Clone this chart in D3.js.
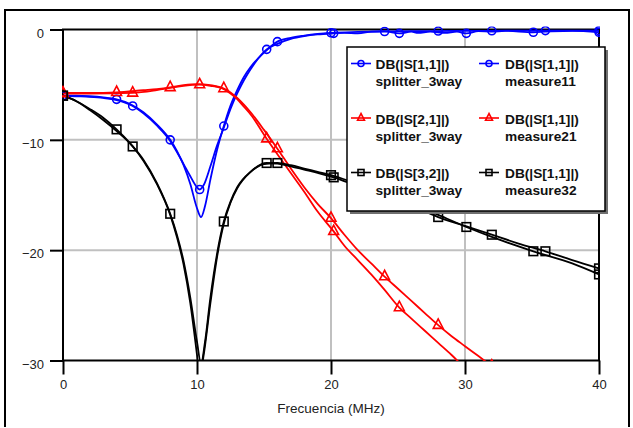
<!DOCTYPE html>
<html>
<head>
<meta charset="utf-8">
<script src="https://cdn.jsdelivr.net/npm/d3@7"></script>
<style>
  body { margin: 0; background: #fff; overflow: hidden; }
  svg { display: block; }
</style>
</head>
<body>
<svg id="drawing_region"></svg>
<script>
// frequency (MHz), dB
var s11Splitter = [[0,-6.0],[1,-6.0],[2,-6.05],[3,-6.15],[4,-6.33],[5,-6.75],[6,-7.5],[7,-8.6],[8,-10.0],[8.5,-11.0],[9,-12.3],[9.5,-14.0],[10,-16.2],[10.3,-17.0],[10.6,-16.0],[11,-13.6],[11.5,-10.9],[12,-8.75],[12.5,-6.9],[13,-5.5],[13.5,-4.3],[14,-3.4],[15,-2.1],[16,-1.1],[17,-0.75],[18,-0.55],[19,-0.4],[20,-0.3],[22,-0.22],[24,-0.18],[26,-0.15],[28,-0.14],[30,-0.12],[32,-0.12],[34,-0.1],[36,-0.1],[38,-0.1],[40,-0.1]];
var s11Measure = [[0,-6.0],[1,-6.05],[2,-6.1],[3,-6.2],[4,-6.4],[5.2,-6.93],[6,-7.6],[7,-8.7],[8,-10.1],[8.5,-11.1],[9,-12.2],[9.5,-13.3],[10,-14.3],[10.2,-14.5],[10.5,-14.1],[11,-12.4],[11.5,-10.5],[12,-8.9],[12.5,-7.2],[13,-5.8],[13.5,-4.6],[14,-3.6],[15.2,-1.8],[16,-1.3],[17,-0.85],[18,-0.6],[19,-0.45],[20.2,-0.35],[21,-0.3],[22,-0.35],[23,-0.2],[24,-0.15],[25.1,-0.35],[26,-0.2],[26.5,-0.3],[27.4,-0.2],[28.5,-0.3],[29.4,-0.2],[30.1,-0.35],[31,-0.15],[32,-0.2],[33,-0.12],[35.1,-0.25],[36,-0.2],[38,-0.12],[40,-0.25]];
var s21Splitter = [[0,-5.75],[2,-5.75],[4,-5.7],[6,-5.5],[7,-5.4],[8,-5.25],[9,-5.05],[10,-4.95],[11,-5.05],[12,-5.35],[12.5,-5.7],[13,-6.2],[13.5,-6.8],[14,-7.5],[15,-9.1],[16,-10.8],[17,-12.6],[18,-14.3],[19,-15.8],[20,-17.1],[21,-18.6],[22,-20.0],[23,-21.2],[24,-22.4],[25,-23.5],[26,-24.6],[27,-25.7],[28,-26.8],[29,-27.8],[30,-28.7],[31,-29.6],[32,-30.5],[33,-31.4]];
var s21Measure = [[0,-5.8],[2,-5.8],[5.2,-5.75],[7,-5.5],[8,-5.3],[9,-5.1],[10.2,-5.0],[11,-5.1],[12,-5.4],[12.5,-5.8],[13,-6.3],[13.5,-7.0],[14,-7.7],[15.2,-9.9],[16,-11.3],[17,-13.0],[18,-14.7],[19,-16.5],[20.2,-18.3],[21,-19.6],[22,-20.9],[23,-22.2],[24,-23.6],[25.1,-25.2],[26,-26.2],[27,-27.3],[28,-28.4],[29,-29.5],[30,-30.7],[31,-31.8]];
var s32Splitter = [[0,-6.0],[1,-6.5],[2,-7.2],[3,-8.0],[4,-9.05],[5,-10.3],[6,-11.8],[7,-13.9],[8,-16.7],[8.5,-18.6],[9,-21.0],[9.5,-24.3],[10,-28.3],[10.3,-30.3],[10.6,-28.3],[11,-24.3],[11.5,-20.3],[12,-17.4],[12.5,-15.6],[13,-14.3],[14,-12.9],[15,-12.2],[16,-12.1],[17,-12.3],[18,-12.6],[19,-12.9],[20,-13.2],[22,-14.0],[24,-14.8],[26,-15.9],[28,-17.0],[30,-17.8],[32,-18.6],[34,-19.4],[36,-20.1],[38,-20.9],[40,-21.65]];
var s32Measure = [[0,-6.0],[1,-6.5],[2,-7.3],[3,-8.2],[4,-9.2],[5.2,-10.6],[6,-11.9],[7,-14.0],[8,-16.8],[8.5,-18.8],[9,-21.3],[9.5,-24.8],[10,-29.5],[10.2,-31.5],[10.5,-29.5],[11,-24.8],[11.5,-20.6],[12,-17.6],[12.5,-15.7],[13,-14.4],[14,-12.9],[15.2,-12.1],[16,-12.15],[17,-12.4],[18,-12.7],[19,-13.0],[20.2,-13.4],[22,-14.2],[25.1,-15.4],[28,-16.8],[30.1,-17.9],[32,-18.8],[35.1,-20.1],[38,-21.2],[40,-22.2]];

// marker frequencies along the traces
var markersSplitter = [0, 4, 8, 12, 16, 20, 24, 28, 32, 36, 40];
var markersMeasure = [0, 5.2, 10.2, 15.2, 20.2, 25.1, 30.1, 35.1, 40];

var xTicks = [0, 10, 20, 30, 40];
var yTicks = [0, -10, -20, -30];

var legendLeft = ['DB(|S[1,1]|)', 'DB(|S[2,1]|)', 'DB(|S[3,2]|)'];
var legendRight = ['DB(|S[1,1]|)', 'DB(|S[1,1]|)', 'DB(|S[1,1]|)'];
var legendLeftSub = ['splitter_3way', 'splitter_3way', 'splitter_3way'];
var legendRightSub = ['measure11', 'measure21', 'measure32'];

var font = '"Liberation Sans", Arial, sans-serif';

var width = 633;
var height = 428;
var margin = {top: 29.5, right: 34, bottom: 67.5, left: 63};

var svg = d3.select('#drawing_region')
      .attr('width', width)
      .attr('height', height)
      .attr('font-family', font);

const innerWidth = width - margin.left - margin.right;
const innerHeight = height - margin.top - margin.bottom;

// outer frame: left, top, right sides (bottom is off the page)
[[5, 10, 5, height - 1], [4, 10, 630, 10], [629, 10, 629, height - 1]].forEach(l => {
      svg.append('line')
            .attr('x1', l[0]).attr('y1', l[1]).attr('x2', l[2]).attr('y2', l[3])
            .attr('stroke', 'black')
            .attr('stroke-width', 2);
});

var chart = svg.append('g')
      .attr('transform', `translate(${margin.left}, ${margin.top})`);

const xscale = d3.scaleLinear().domain([0, 40]).range([0, innerWidth]);
const yscale = d3.scaleLinear().domain([0, -30]).range([0, innerHeight]);

chart.append('defs').append('clipPath').attr('id', 'plotclip')
      .append('rect')
      .attr('x', -1).attr('y', -3)
      .attr('width', innerWidth + 2).attr('height', innerHeight + 3.5);

// grid
chart.selectAll('.vgrid').data(xTicks.slice(1, -1)).enter().append('line')
      .attr('x1', d => xscale(d)).attr('x2', d => xscale(d))
      .attr('y1', 0).attr('y2', innerHeight)
      .attr('stroke', '#c0c0c0').attr('stroke-width', 2);
chart.selectAll('.hgrid').data(yTicks.slice(1, -1)).enter().append('line')
      .attr('y1', d => yscale(d)).attr('y2', d => yscale(d))
      .attr('x1', 0).attr('x2', innerWidth)
      .attr('stroke', '#c0c0c0').attr('stroke-width', 2);

// axes
const xAxis = d3.axisBottom(xscale).tickValues(xTicks).tickSize(14).tickPadding(5);
const yAxis = d3.axisLeft(yscale).tickValues(yTicks).tickSize(13).tickPadding(6);

var gx = chart.append('g')
      .attr('transform', `translate(0, ${innerHeight})`)
      .call(xAxis);
var gy = chart.append('g').call(yAxis);
[gx, gy].forEach(g => {
      g.attr('font-family', font).attr('font-size', 13);
      g.select('.domain').remove();
      g.selectAll('line').attr('stroke', 'black').attr('stroke-width', 2);
      g.selectAll('text').attr('fill', '#222');
});
gy.selectAll('text').attr('dy', '0.58em');

// plot frame
chart.append('rect')
      .attr('width', innerWidth).attr('height', innerHeight)
      .attr('fill', 'none')
      .attr('stroke', 'black')
      .attr('stroke-width', 2);

chart.append('text')
      .attr('x', 331 - margin.left)
      .attr('y', 413 - margin.top)
      .attr('text-anchor', 'middle')
      .attr('fill', '#222')
      .attr('font-size', 13.5)
      .text('Frecuencia (MHz)');

const line = d3.line()
      .x(d => xscale(d[0]))
      .y(d => yscale(d[1]))
      .curve(d3.curveMonotoneX);

function valueAt(data, f) {
      for (var i = 1; i < data.length; i++) {
            if (f <= data[i][0]) {
                  var a = data[i - 1], b = data[i];
                  var t = (f - a[0]) / (b[0] - a[0]);
                  return a[1] + t * (b[1] - a[1]);
            }
      }
      return data[data.length - 1][1];
}

function drawMarker(g, shape, cx, cy, s, color) {
      if (shape === 'circle') {
            g.append('circle').attr('cx', cx).attr('cy', cy).attr('r', s)
                  .attr('fill', 'none').attr('stroke', color).attr('stroke-width', 1.6);
      } else if (shape === 'triangle') {
            var h = s * 2.2;
            var pts = [[cx, cy - h * 2 / 3], [cx - s * 1.15, cy + h / 3], [cx + s * 1.15, cy + h / 3]];
            g.append('polygon').attr('points', pts.map(p => p.join(',')).join(' '))
                  .attr('fill', 'none').attr('stroke', color).attr('stroke-width', 1.6);
      } else {
            g.append('rect').attr('x', cx - s).attr('y', cy - s)
                  .attr('width', s * 2).attr('height', s * 2)
                  .attr('fill', 'none').attr('stroke', color).attr('stroke-width', 1.6);
      }
}

var series = [
      {data: s11Splitter, marks: markersSplitter, color: '#0000ff', shape: 'circle'},
      {data: s11Measure, marks: markersMeasure, color: '#0000ff', shape: 'circle'},
      {data: s21Splitter, marks: markersSplitter, color: '#ff0000', shape: 'triangle'},
      {data: s21Measure, marks: markersMeasure, color: '#ff0000', shape: 'triangle'},
      {data: s32Splitter, marks: markersSplitter, color: '#000000', shape: 'square'},
      {data: s32Measure, marks: markersMeasure, color: '#000000', shape: 'square'}
];

var plot = chart.append('g').attr('clip-path', 'url(#plotclip)');

series.forEach(s => {
      plot.append('path')
            .attr('d', line(s.data))
            .attr('fill', 'none')
            .attr('stroke', s.color)
            .attr('stroke-width', 1.8);
});
series.forEach(s => {
      s.marks.forEach(f => {
            drawMarker(plot, s.shape, xscale(f), yscale(valueAt(s.data, f)),
                  s.shape === 'circle' ? 4 : 4.3, s.color);
      });
});

// legend
var legend = svg.append('g').attr('transform', 'translate(347, 47)');
legend.append('rect').attr('x', 3).attr('y', 3).attr('width', 258).attr('height', 164)
      .attr('fill', '#707070');
legend.append('rect').attr('width', 258).attr('height', 164)
      .attr('fill', 'white').attr('stroke', 'black').attr('stroke-width', 1.5);

var legendColors = ['#0000ff', '#ff0000', '#000000'];
var legendShapes = ['circle', 'triangle', 'square'];
[0, 1, 2].forEach(i => {
      var y0 = 22 + i * 54.5;
      [[4, 28.5, legendLeft, legendLeftSub], [132, 158, legendRight, legendRightSub]].forEach(c => {
            legend.append('line')
                  .attr('x1', c[0]).attr('x2', c[0] + 20)
                  .attr('y1', y0 - 5.5).attr('y2', y0 - 5.5)
                  .attr('stroke', legendColors[i]).attr('stroke-width', 1.6);
            drawMarker(legend, legendShapes[i], c[0] + 10, y0 - 5.5, 3, legendColors[i]);
            legend.append('text').attr('x', c[1]).attr('y', y0)
                  .attr('font-size', 13.7).attr('font-weight', 'bold')
                  .attr('fill', '#111')
                  .text(c[2][i]);
            legend.append('text').attr('x', c[1]).attr('y', y0 + 17)
                  .attr('font-size', 13.7).attr('font-weight', 'bold')
                  .attr('fill', '#111')
                  .text(c[3][i]);
      });
});
</script>
</body>
</html>
